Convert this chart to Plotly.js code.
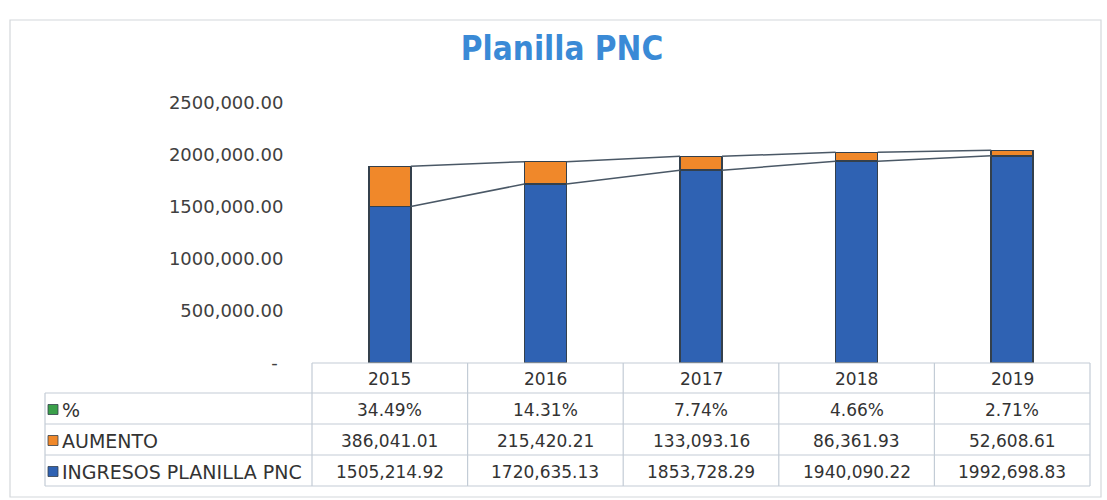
<!DOCTYPE html>
<html>
<head>
<meta charset="utf-8">
<script src="https://cdn.plot.ly/plotly-3.0.1.min.js"></script>
<style>html,body{margin:0;padding:0;background:#fff;}#chart{width:1107px;height:500px;}</style>
</head>
<body>
<div id="chart"></div>
<script>
// ---- data ----
const years = ['2015', '2016', '2017', '2018', '2019'];
const ingresos = [1505214.92, 1720635.13, 1853728.29, 1940090.22, 1992698.83];
const aumento = [386041.01, 215420.21, 133093.16, 86361.93, 52608.61];
const pct = [34.49, 14.31, 7.74, 4.66, 2.71];
const seriesNames = ['%', 'AUMENTO', 'INGRESOS PLANILLA PNC'];
const yTickVals = [0, 500000, 1000000, 1500000, 2000000, 2500000];

// ---- formatting ----
function fmt(n) {
  const s = n.toFixed(2);
  let [i, d] = s.split('.');
  if (i.length > 3) i = i.slice(0, -3) + ',' + i.slice(-3);
  return i + '.' + d;
}
const yTickText = yTickVals.map(v => v === 0 ? '-\u00a0' : fmt(v));

// ---- style ----
const W = 1107, H = 500;
const L = 312, R = 1090, T = 103, B = 363;
const BLUE = '#2f62b3', ORANGE = '#f0882a', GREEN = '#3aa04a';
const OUTLINE = '#34404c';
const GRID = '#c3ccd6';
const TXT = '#333333';
const FONT = 'DejaVu Sans, sans-serif';
const barW = 0.27;

const px = x => (x - L) / (R - L);
const py = y => (B - y) / (B - T);

const xIdx = years.map((_, i) => i);
const tot1 = ingresos.slice();
const tot2 = ingresos.map((v, i) => v + aumento[i]);

const traces = [
  {type: 'bar', x: xIdx, y: ingresos, name: seriesNames[2], width: barW,
   marker: {color: BLUE, line: {color: OUTLINE, width: 1.5}}, hoverinfo: 'y'},
  {type: 'bar', x: xIdx, y: aumento, name: seriesNames[1], width: barW,
   marker: {color: ORANGE, line: {color: OUTLINE, width: 1.5}}, hoverinfo: 'y'},
  {type: 'bar', x: xIdx, y: pct, name: seriesNames[0], width: barW,
   marker: {color: GREEN, line: {width: 0}}, hoverinfo: 'y'}
];

// series lines (bar edge to next bar edge)
[tot1, tot2].forEach(tops => {
  for (let i = 0; i < xIdx.length - 1; i++) {
    traces.push({type: 'scatter', mode: 'lines', showlegend: false, hoverinfo: 'skip',
      x: [xIdx[i] + barW / 2, xIdx[i + 1] - barW / 2],
      y: [tops[i], tops[i + 1]],
      line: {color: '#4a5866', width: 1.5}});
  }
});

const shapes = [];
const annotations = [];
function hline(y, x0, x1) {
  shapes.push({type: 'line', xref: 'paper', yref: 'paper', x0: px(x0), x1: px(x1), y0: py(y), y1: py(y),
    line: {color: GRID, width: 1.2}});
}
function vline(x, y0, y1) {
  shapes.push({type: 'line', xref: 'paper', yref: 'paper', x0: px(x), x1: px(x), y0: py(y0), y1: py(y1),
    line: {color: GRID, width: 1.2}});
}
// outer chart border
shapes.push({type: 'rect', xref: 'paper', yref: 'paper', x0: px(10), x1: px(1101), y0: py(20), y1: py(497),
  line: {color: '#d4d7db', width: 1.2}});

// table grid
const rowY = [363, 393, 424, 455, 486];
const colX = years.map((_, i) => L + i * (R - L) / years.length);
colX.push(R);
const labelX0 = 45;
hline(rowY[0], L, R);
for (let r = 1; r < rowY.length; r++) hline(rowY[r], labelX0, R);
colX.forEach(x => vline(x, rowY[0], rowY[4]));
vline(labelX0, rowY[1], rowY[4]);

function cellText(text, xPix, yPix, anchor, size) {
  annotations.push({xref: 'paper', yref: 'paper', x: px(xPix), y: py(yPix), text: text,
    showarrow: false, xanchor: anchor, yanchor: 'middle',
    font: {family: FONT, size: size || 17, color: TXT}});
}
const rowsVals = [pct.map(v => v.toFixed(2) + '%'), aumento.map(fmt), ingresos.map(fmt)];
const rowColors = [GREEN, ORANGE, BLUE];
years.forEach((yr, i) => {
  const cx = (colX[i] + colX[i + 1]) / 2;
  cellText(yr, cx, (rowY[0] + rowY[1]) / 2 + 1, 'center');
  rowsVals.forEach((vals, r) => cellText(vals[i], cx, (rowY[r + 1] + rowY[r + 2]) / 2 + 1, 'center'));
});
seriesNames.forEach((nm, r) => {
  const cy = (rowY[r + 1] + rowY[r + 2]) / 2;
  shapes.push({type: 'rect', xref: 'paper', yref: 'paper', x0: px(48), x1: px(58), y0: py(cy - 4), y1: py(cy + 6),
    fillcolor: rowColors[r], line: {color: OUTLINE, width: 0.8}});
  cellText(nm, 60, cy + 1, 'left', 19);
});

const layout = {
  width: W, height: H,
  margin: {l: L, r: W - R, t: T, b: H - B, pad: 0},
  paper_bgcolor: '#ffffff', plot_bgcolor: '#ffffff',
  barmode: 'stack',
  showlegend: false,
  title: {text: 'Planilla PNC', x: 562 / W, xref: 'container', xanchor: 'center', y: 1 - 48 / H, yanchor: 'middle',
    font: {family: 'DejaVu Sans Condensed, DejaVu Sans, sans-serif', size: 33, color: '#3a8ad6', weight: 'bold'}},
  xaxis: {type: 'linear', range: [-0.5, 4.5], showticklabels: false, showgrid: false, zeroline: false,
    showline: false, ticks: '', fixedrange: true},
  yaxis: {range: [0, 2500000], tickvals: yTickVals, ticktext: yTickText, showgrid: false, zeroline: false,
    showline: false, ticks: 'outside', ticklen: 24, tickcolor: 'rgba(0,0,0,0)',
    tickfont: {family: FONT, size: 18, color: '#404040'}, fixedrange: true},
  shapes: shapes,
  annotations: annotations
};

Plotly.newPlot('chart', traces, layout, {displayModeBar: false, staticPlot: true});
</script>
</body>
</html>
